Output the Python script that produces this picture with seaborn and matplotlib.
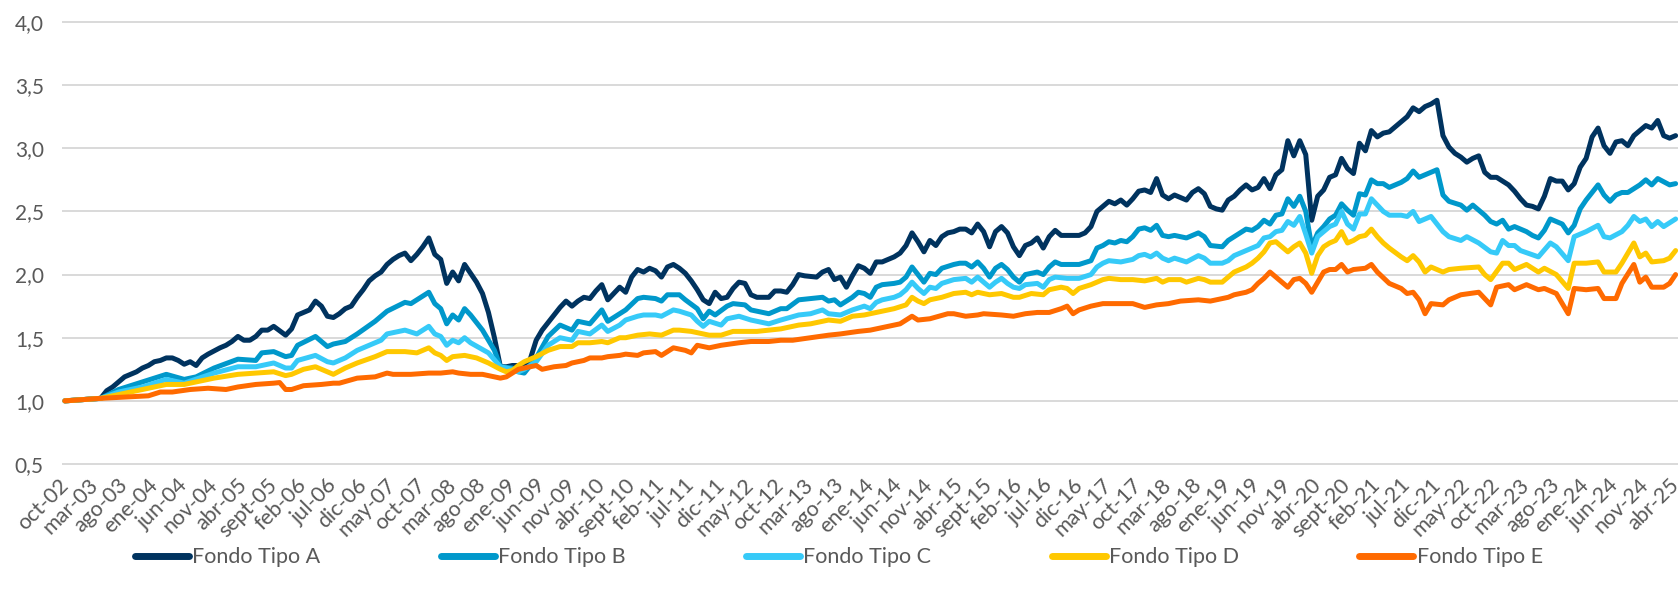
#!/usr/bin/env python3
#===============================================================================
# plot - valor cuota fondos de pensiones (base oct-02 = 1)
#===============================================================================

# Imports ======================================================================

import matplotlib
matplotlib.use('Agg')
import matplotlib.pyplot as plt
import matplotlib.transforms as mtransforms
import pandas as pd
import seaborn as sns


# Data =========================================================================

# (meses desde oct-02, valor)
FONDO_A = [
    (0, 1.00), (3, 1.01), (6, 1.02), (7, 1.08), (8, 1.11), (10, 1.19), (12, 1.23), (13, 1.26),
    (14, 1.28), (15, 1.31), (16, 1.32), (17, 1.34), (18, 1.34), (19, 1.32), (20, 1.29), (21, 1.31),
    (22, 1.28), (23, 1.34), (24, 1.37), (26, 1.42), (27, 1.44), (28, 1.47), (29, 1.51), (30, 1.48),
    (31, 1.48), (32, 1.51), (33, 1.56), (34, 1.56), (35, 1.59), (37, 1.52), (38, 1.57), (39, 1.68),
    (40, 1.70), (41, 1.72), (42, 1.79), (43, 1.75), (44, 1.67), (45, 1.66), (46, 1.69), (47, 1.73),
    (48, 1.75), (49, 1.82), (50, 1.88), (51, 1.95), (52, 1.99), (53, 2.02), (54, 2.08), (55, 2.12),
    (56, 2.15), (57, 2.17), (58, 2.11), (59, 2.16), (60, 2.22), (61, 2.29), (62, 2.16), (63, 2.12),
    (64, 1.93), (65, 2.02), (66, 1.95), (67, 2.08), (68, 2.01), (69, 1.94), (70, 1.85), (71, 1.70),
    (72, 1.50), (73, 1.27), (74, 1.27), (75, 1.28), (76, 1.28), (77, 1.27), (78, 1.33), (79, 1.48),
    (80, 1.56), (81, 1.62), (82, 1.68), (83, 1.74), (84, 1.79), (85, 1.75), (86, 1.79), (87, 1.82),
    (88, 1.81), (89, 1.87), (90, 1.92), (91, 1.80), (92, 1.85), (93, 1.90), (94, 1.86), (95, 1.98),
    (96, 2.04), (97, 2.02), (98, 2.05), (99, 2.03), (100, 1.98), (101, 2.06), (102, 2.08), (103, 2.05),
    (104, 2.01), (105, 1.95), (106, 1.88), (107, 1.80), (108, 1.77), (109, 1.86), (110, 1.81),
    (111, 1.82), (112, 1.89), (113, 1.94), (114, 1.93), (115, 1.84), (116, 1.82), (118, 1.82),
    (119, 1.87), (120, 1.87), (121, 1.86), (122, 1.92), (123, 2.00), (124, 1.99), (126, 1.98),
    (127, 2.02), (128, 2.04), (129, 1.96), (130, 1.98), (131, 1.90), (132, 1.99), (133, 2.07),
    (134, 2.05), (135, 2.01), (136, 2.10), (137, 2.10), (138, 2.12), (139, 2.14), (140, 2.17),
    (141, 2.23), (142, 2.33), (143, 2.26), (144, 2.18), (145, 2.27), (146, 2.23), (147, 2.30),
    (148, 2.33), (149, 2.34), (150, 2.36), (151, 2.36), (152, 2.33), (153, 2.40), (154, 2.34),
    (155, 2.22), (156, 2.34), (157, 2.38), (158, 2.33), (159, 2.22), (160, 2.15), (161, 2.23),
    (162, 2.25), (163, 2.29), (164, 2.21), (165, 2.30), (166, 2.35), (167, 2.31), (168, 2.31),
    (170, 2.31), (171, 2.33), (172, 2.38), (173, 2.50), (174, 2.54), (175, 2.58), (176, 2.56),
    (177, 2.59), (178, 2.55), (179, 2.60), (180, 2.66), (181, 2.67), (182, 2.65), (183, 2.76),
    (184, 2.63), (185, 2.60), (186, 2.63), (187, 2.61), (188, 2.59), (189, 2.65), (190, 2.68),
    (191, 2.64), (192, 2.54), (193, 2.52), (194, 2.51), (195, 2.59), (196, 2.62), (197, 2.67),
    (198, 2.71), (199, 2.67), (200, 2.69), (201, 2.76), (202, 2.68), (203, 2.79), (204, 2.83),
    (205, 3.06), (206, 2.94), (207, 3.06), (208, 2.95), (209, 2.43), (210, 2.62), (211, 2.67),
    (212, 2.77), (213, 2.79), (214, 2.92), (215, 2.84), (216, 2.80), (217, 3.04), (218, 2.98),
    (219, 3.14), (220, 3.09), (221, 3.12), (222, 3.13), (223, 3.17), (224, 3.21), (225, 3.25),
    (226, 3.32), (227, 3.29), (228, 3.33), (229, 3.35), (230, 3.38), (231, 3.10), (232, 3.01),
    (233, 2.96), (234, 2.93), (235, 2.89), (236, 2.92), (237, 2.94), (238, 2.81), (239, 2.77),
    (240, 2.77), (241, 2.74), (242, 2.71), (243, 2.66), (244, 2.60), (245, 2.55), (246, 2.54),
    (247, 2.52), (248, 2.62), (249, 2.76), (250, 2.74), (251, 2.74), (252, 2.67), (253, 2.72),
    (254, 2.85), (255, 2.92), (256, 3.09), (257, 3.16), (258, 3.02), (259, 2.96), (260, 3.05),
    (261, 3.06), (262, 3.02), (263, 3.10), (264, 3.14), (265, 3.18), (266, 3.16), (267, 3.22),
    (268, 3.10), (269, 3.08), (270, 3.10),
]

FONDO_B = [
    (0, 1.00), (3, 1.01), (6, 1.02), (9, 1.09), (13, 1.15), (15, 1.18), (17, 1.21), (20, 1.17),
    (22, 1.19), (25, 1.26), (29, 1.33), (32, 1.32), (33, 1.38), (35, 1.39), (37, 1.35), (38, 1.36),
    (39, 1.44), (42, 1.51), (44, 1.43), (45, 1.45), (47, 1.47), (49, 1.53), (52, 1.63), (53, 1.67),
    (54, 1.71), (57, 1.78), (58, 1.77), (59, 1.80), (61, 1.86), (62, 1.77), (63, 1.73), (64, 1.61),
    (65, 1.68), (66, 1.64), (67, 1.73), (68, 1.68), (70, 1.56), (72, 1.40), (73, 1.27), (75, 1.26),
    (76, 1.23), (77, 1.22), (78, 1.28), (79, 1.34), (81, 1.51), (83, 1.60), (85, 1.56), (86, 1.63),
    (88, 1.61), (90, 1.72), (91, 1.63), (93, 1.69), (94, 1.72), (96, 1.81), (97, 1.82), (99, 1.81),
    (100, 1.79), (101, 1.84), (103, 1.84), (104, 1.80), (106, 1.73), (107, 1.65), (108, 1.71),
    (109, 1.68), (111, 1.75), (112, 1.77), (114, 1.76), (115, 1.72), (118, 1.69), (120, 1.73),
    (121, 1.73), (123, 1.80), (125, 1.81), (127, 1.82), (128, 1.79), (129, 1.80), (130, 1.76),
    (132, 1.82), (133, 1.86), (134, 1.85), (135, 1.82), (136, 1.90), (137, 1.92), (139, 1.93),
    (140, 1.94), (141, 1.98), (142, 2.06), (143, 2.00), (144, 1.94), (145, 2.01), (146, 2.00),
    (147, 2.05), (149, 2.08), (150, 2.09), (151, 2.09), (152, 2.06), (153, 2.10), (154, 2.05),
    (155, 1.98), (156, 2.05), (157, 2.08), (158, 2.04), (159, 1.98), (160, 1.94), (161, 2.00),
    (162, 2.01), (163, 2.02), (164, 2.00), (165, 2.06), (166, 2.10), (167, 2.08), (170, 2.08),
    (172, 2.11), (173, 2.21), (174, 2.23), (175, 2.26), (176, 2.25), (177, 2.27), (178, 2.26),
    (179, 2.30), (180, 2.36), (181, 2.37), (182, 2.35), (183, 2.39), (184, 2.31), (185, 2.30),
    (186, 2.31), (188, 2.29), (190, 2.33), (191, 2.30), (192, 2.23), (194, 2.22), (195, 2.27),
    (196, 2.30), (198, 2.36), (199, 2.35), (200, 2.38), (201, 2.43), (202, 2.40), (203, 2.47),
    (204, 2.48), (205, 2.60), (206, 2.54), (207, 2.62), (208, 2.50), (209, 2.22), (210, 2.33),
    (211, 2.38), (212, 2.44), (213, 2.47), (214, 2.56), (215, 2.51), (216, 2.47), (217, 2.64),
    (218, 2.63), (219, 2.75), (220, 2.72), (221, 2.72), (222, 2.69), (224, 2.73), (225, 2.76),
    (226, 2.82), (227, 2.77), (228, 2.79), (230, 2.83), (231, 2.63), (232, 2.58), (234, 2.55),
    (235, 2.51), (236, 2.55), (238, 2.47), (239, 2.42), (240, 2.40), (241, 2.43), (242, 2.36),
    (243, 2.38), (245, 2.34), (246, 2.31), (247, 2.29), (248, 2.35), (249, 2.44), (251, 2.40),
    (252, 2.33), (253, 2.39), (254, 2.52), (255, 2.59), (257, 2.71), (258, 2.63), (259, 2.58),
    (260, 2.63), (261, 2.65), (262, 2.65), (264, 2.71), (265, 2.75), (266, 2.71), (267, 2.76),
    (269, 2.71), (270, 2.72),
]

FONDO_C = [
    (0, 1.00), (3, 1.01), (6, 1.02), (9, 1.07), (13, 1.11), (17, 1.17), (20, 1.14), (25, 1.22),
    (29, 1.27), (32, 1.27), (35, 1.30), (37, 1.26), (38, 1.26), (39, 1.32), (42, 1.36), (44, 1.31),
    (45, 1.30), (47, 1.34), (49, 1.40), (52, 1.46), (53, 1.48), (54, 1.53), (57, 1.56), (59, 1.53),
    (61, 1.59), (62, 1.53), (63, 1.51), (64, 1.44), (65, 1.48), (66, 1.46), (67, 1.50), (68, 1.46),
    (71, 1.38), (73, 1.27), (75, 1.25), (76, 1.23), (77, 1.25), (79, 1.31), (81, 1.44), (83, 1.50),
    (85, 1.48), (86, 1.55), (88, 1.53), (90, 1.60), (91, 1.55), (93, 1.60), (94, 1.64), (96, 1.67),
    (97, 1.68), (99, 1.68), (100, 1.67), (102, 1.72), (103, 1.71), (105, 1.68), (106, 1.63),
    (107, 1.59), (108, 1.63), (110, 1.60), (111, 1.65), (113, 1.67), (115, 1.64), (118, 1.61),
    (120, 1.64), (123, 1.68), (125, 1.69), (127, 1.72), (128, 1.69), (130, 1.68), (132, 1.72),
    (134, 1.75), (135, 1.73), (136, 1.78), (137, 1.80), (139, 1.82), (140, 1.84), (141, 1.88),
    (142, 1.94), (143, 1.89), (144, 1.85), (145, 1.90), (146, 1.89), (147, 1.93), (149, 1.96),
    (151, 1.97), (152, 1.94), (153, 1.98), (154, 1.94), (155, 1.90), (156, 1.94), (157, 1.97),
    (158, 1.93), (159, 1.90), (160, 1.89), (161, 1.92), (163, 1.93), (164, 1.90), (165, 1.96),
    (166, 1.98), (168, 1.97), (170, 1.97), (172, 2.00), (173, 2.06), (174, 2.09), (175, 2.11),
    (177, 2.10), (178, 2.11), (179, 2.12), (180, 2.15), (181, 2.16), (182, 2.14), (183, 2.17),
    (184, 2.13), (185, 2.11), (186, 2.13), (188, 2.10), (190, 2.15), (191, 2.13), (192, 2.09),
    (194, 2.09), (195, 2.11), (196, 2.15), (198, 2.19), (199, 2.21), (200, 2.23), (201, 2.29),
    (202, 2.30), (203, 2.34), (204, 2.35), (205, 2.42), (206, 2.39), (207, 2.46), (208, 2.32),
    (209, 2.17), (210, 2.30), (211, 2.34), (212, 2.38), (213, 2.40), (214, 2.50), (215, 2.40),
    (216, 2.36), (217, 2.48), (218, 2.48), (219, 2.60), (220, 2.55), (221, 2.50), (222, 2.47),
    (224, 2.47), (225, 2.46), (226, 2.50), (227, 2.42), (229, 2.46), (231, 2.34), (232, 2.30),
    (234, 2.27), (235, 2.30), (237, 2.25), (239, 2.18), (240, 2.17), (241, 2.27), (242, 2.23),
    (243, 2.23), (244, 2.19), (247, 2.14), (249, 2.25), (250, 2.22), (252, 2.11), (253, 2.30),
    (255, 2.34), (257, 2.39), (258, 2.30), (259, 2.29), (261, 2.34), (262, 2.39), (263, 2.46),
    (264, 2.42), (265, 2.44), (266, 2.38), (267, 2.42), (268, 2.38), (270, 2.44),
]

FONDO_D = [
    (0, 1.00), (3, 1.01), (6, 1.02), (9, 1.05), (13, 1.09), (17, 1.13), (20, 1.13), (25, 1.18),
    (29, 1.21), (32, 1.22), (35, 1.23), (37, 1.20), (38, 1.21), (40, 1.25), (42, 1.27), (44, 1.23),
    (45, 1.21), (47, 1.26), (49, 1.30), (52, 1.35), (54, 1.39), (57, 1.39), (59, 1.38), (61, 1.42),
    (62, 1.38), (63, 1.36), (64, 1.32), (65, 1.35), (67, 1.36), (69, 1.34), (71, 1.30), (73, 1.25),
    (74, 1.23), (75, 1.24), (76, 1.28), (77, 1.31), (79, 1.35), (81, 1.40), (83, 1.43), (85, 1.43),
    (86, 1.46), (88, 1.46), (90, 1.47), (91, 1.46), (93, 1.50), (94, 1.50), (96, 1.52), (98, 1.53),
    (100, 1.52), (102, 1.56), (103, 1.56), (105, 1.55), (107, 1.53), (108, 1.52), (110, 1.52),
    (112, 1.55), (116, 1.55), (118, 1.56), (120, 1.57), (123, 1.60), (125, 1.61), (128, 1.64),
    (130, 1.63), (132, 1.67), (134, 1.68), (136, 1.70), (139, 1.73), (141, 1.76), (142, 1.82),
    (143, 1.79), (144, 1.77), (145, 1.80), (147, 1.82), (149, 1.85), (151, 1.86), (152, 1.84),
    (153, 1.86), (154, 1.85), (155, 1.84), (157, 1.85), (159, 1.82), (160, 1.82), (162, 1.85),
    (164, 1.84), (165, 1.88), (167, 1.90), (168, 1.89), (169, 1.85), (170, 1.89), (172, 1.92),
    (174, 1.96), (175, 1.97), (177, 1.96), (179, 1.96), (181, 1.95), (182, 1.96), (183, 1.97),
    (184, 1.94), (185, 1.96), (187, 1.96), (188, 1.94), (190, 1.97), (191, 1.96), (192, 1.94),
    (194, 1.94), (195, 1.98), (196, 2.02), (198, 2.06), (199, 2.09), (200, 2.13), (201, 2.18),
    (202, 2.25), (203, 2.26), (204, 2.22), (205, 2.18), (206, 2.22), (207, 2.25), (208, 2.17),
    (209, 2.01), (210, 2.15), (211, 2.22), (212, 2.25), (213, 2.27), (214, 2.34), (215, 2.25),
    (216, 2.27), (217, 2.30), (218, 2.31), (219, 2.36), (220, 2.30), (221, 2.25), (222, 2.21),
    (224, 2.14), (225, 2.11), (226, 2.15), (227, 2.10), (228, 2.02), (229, 2.06), (231, 2.02),
    (232, 2.04), (234, 2.05), (237, 2.06), (238, 2.00), (239, 1.96), (241, 2.09), (242, 2.09),
    (243, 2.04), (245, 2.08), (247, 2.02), (248, 2.05), (250, 2.00), (252, 1.89), (253, 2.09),
    (255, 2.09), (257, 2.10), (258, 2.02), (260, 2.02), (261, 2.09), (263, 2.25), (264, 2.14),
    (265, 2.17), (266, 2.10), (268, 2.11), (269, 2.13), (270, 2.19),
]

FONDO_E = [
    (0, 1.00), (3, 1.01), (6, 1.02), (10, 1.03), (14, 1.04), (16, 1.07), (18, 1.07), (21, 1.09),
    (24, 1.10), (27, 1.09), (29, 1.11), (32, 1.13), (35, 1.14), (36, 1.145), (37, 1.09), (38, 1.09),
    (40, 1.12), (43, 1.13), (45, 1.14), (46, 1.14), (49, 1.18), (52, 1.19), (54, 1.22), (55, 1.21),
    (58, 1.21), (61, 1.22), (63, 1.22), (65, 1.23), (66, 1.22), (68, 1.21), (70, 1.21), (72, 1.19),
    (73, 1.18), (74, 1.19), (75, 1.22), (76, 1.25), (78, 1.27), (79, 1.28), (80, 1.25), (82, 1.27),
    (84, 1.28), (85, 1.30), (87, 1.32), (88, 1.34), (90, 1.34), (91, 1.35), (93, 1.36), (94, 1.37),
    (96, 1.36), (97, 1.38), (99, 1.39), (100, 1.36), (102, 1.42), (104, 1.40), (105, 1.38),
    (106, 1.44), (108, 1.42), (110, 1.44), (113, 1.46), (115, 1.47), (118, 1.47), (120, 1.48),
    (122, 1.48), (125, 1.50), (128, 1.52), (130, 1.53), (133, 1.55), (135, 1.56), (136, 1.57),
    (138, 1.59), (140, 1.61), (141, 1.64), (142, 1.67), (143, 1.64), (145, 1.65), (148, 1.69),
    (149, 1.69), (151, 1.67), (153, 1.68), (154, 1.69), (157, 1.68), (159, 1.67), (161, 1.69),
    (163, 1.70), (165, 1.70), (167, 1.73), (168, 1.75), (169, 1.69), (170, 1.72), (172, 1.75),
    (174, 1.77), (177, 1.77), (179, 1.77), (181, 1.74), (183, 1.76), (185, 1.77), (187, 1.79),
    (190, 1.80), (192, 1.79), (193, 1.80), (195, 1.82), (196, 1.84), (198, 1.86), (199, 1.88),
    (200, 1.93), (201, 1.97), (202, 2.02), (203, 1.98), (205, 1.90), (206, 1.96), (207, 1.97),
    (208, 1.93), (209, 1.86), (210, 1.94), (211, 2.02), (212, 2.04), (213, 2.04), (214, 2.08),
    (215, 2.02), (216, 2.04), (218, 2.05), (219, 2.08), (220, 2.02), (222, 1.93), (224, 1.89),
    (225, 1.85), (226, 1.86), (227, 1.80), (228, 1.69), (229, 1.77), (231, 1.76), (232, 1.80),
    (234, 1.84), (237, 1.86), (238, 1.81), (239, 1.76), (240, 1.90), (242, 1.92), (243, 1.88),
    (245, 1.92), (247, 1.88), (248, 1.89), (250, 1.85), (252, 1.69), (253, 1.89), (255, 1.88),
    (257, 1.89), (258, 1.81), (260, 1.81), (261, 1.93), (263, 2.08), (264, 1.94), (265, 1.98),
    (266, 1.90), (268, 1.90), (269, 1.93), (270, 2.00),
]

FONDOS = ['Fondo Tipo A', 'Fondo Tipo B', 'Fondo Tipo C', 'Fondo Tipo D', 'Fondo Tipo E']
COLORES = ['#00335F', '#0098CB', '#36CAF8', '#FFC800', '#FF6A00']

TICK_LABELS = [
    'oct-02', 'mar-03', 'ago-03', 'ene-04', 'jun-04', 'nov-04', 'abr-05', 'sept-05',
    'feb-06', 'jul-06', 'dic-06', 'may-07', 'oct-07', 'mar-08', 'ago-08', 'ene-09',
    'jun-09', 'nov-09', 'abr-10', 'sept-10', 'feb-11', 'jul-11', 'dic-11', 'may-12',
    'oct-12', 'mar-13', 'ago-13', 'ene-14', 'jun-14', 'nov-14', 'abr-15', 'sept-15',
    'feb-16', 'jul-16', 'dic-16', 'may-17', 'oct-17', 'mar-18', 'ago-18', 'ene-19',
    'jun-19', 'nov-19', 'abr-20', 'sept-20', 'feb-21', 'jul-21', 'dic-21', 'may-22',
    'oct-22', 'mar-23', 'ago-23', 'ene-24', 'jun-24', 'nov-24', 'abr-25',
]
Y_TICKS = [0.5, 1.0, 1.5, 2.0, 2.5, 3.0, 3.5, 4.0]
Y_LABELS = ['0,5', '1,0', '1,5', '2,0', '2,5', '3,0', '3,5', '4,0']

GRIS = '#595959'


# Functions ====================================================================

def build_frame():
    frames = []
    for nombre, serie in zip(FONDOS, (FONDO_A, FONDO_B, FONDO_C, FONDO_D, FONDO_E)):
        df = pd.DataFrame(serie, columns=['mes', 'valor'])
        df['fondo'] = nombre
        frames.append(df)
    return pd.concat(frames, ignore_index=True)


def main():
    sns.set_style('white')
    plt.rcParams['font.family'] = ['Lato', 'DejaVu Sans']

    fig = plt.figure(figsize=(16.78, 6.09), dpi=100)
    ax = fig.add_axes([0.0369, 0.2360, 0.9631, 0.7300])

    sns.lineplot(
        data=build_frame(),
        x='mes',
        y='valor',
        hue='fondo',
        hue_order=FONDOS,
        palette=COLORES,
        estimator=None,
        linewidth=3.6,
        legend=False,
        ax=ax,
    )

    ax.set_xlim(-0.5, 270.4)
    ax.set_ylim(0.49, 4.01)
    ax.set_yticks(Y_TICKS)
    ax.set_yticklabels(Y_LABELS)
    ax.set_xticks(range(0, 271, 5))
    ax.set_xticklabels(TICK_LABELS, rotation=45, ha='right', va='center',
                       rotation_mode='anchor')
    # rotated labels end just left of their tick, as in the original;
    # the last one is nudged a little more so it stays inside the figure
    labels = ax.get_xticklabels()
    for i, label in enumerate(labels):
        dx = -7.5 if i < len(labels) - 1 else -12
        shift = mtransforms.ScaledTranslation(dx / 72, 0, fig.dpi_scale_trans)
        label.set_transform(label.get_transform() + shift)
    ax.set_xlabel('')
    ax.set_ylabel('')
    ax.grid(axis='y', color='#D9D9D9', linewidth=1.4)
    ax.grid(axis='x', visible=False)
    ax.set_axisbelow(True)
    for spine in ax.spines.values():
        spine.set_visible(False)
    ax.tick_params(axis='y', length=0, pad=13, labelsize=15, labelcolor=GRIS)
    ax.tick_params(axis='x', length=0, pad=12, labelsize=15.5, labelcolor=GRIS)

    leg = fig.legend(
        ax.get_lines()[:5], FONDOS,
        loc='center', bbox_to_anchor=(0.5, 0.085), ncol=5, frameon=False,
        handlelength=2.5, handletextpad=0.15, columnspacing=5.6,
        fontsize=15.5, labelcolor=GRIS,
    )
    for line in leg.get_lines():
        line.set_linewidth(5)
        line.set_solid_capstyle('round')

    fig.savefig('out.png', dpi=100)


# Execute ======================================================================

if __name__ == '__main__':
    main()
